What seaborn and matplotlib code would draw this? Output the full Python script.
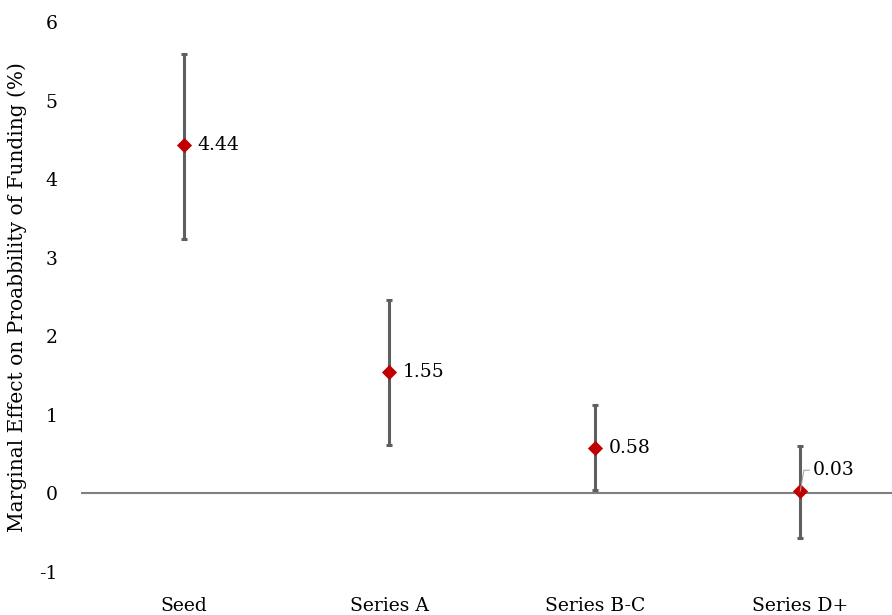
import pandas as pd
import seaborn as sns
import matplotlib.pyplot as plt
import numpy as np

stages = ['Seed', 'Series A', 'Series B-C', 'Series D+']
effects = [4.44, 1.55, 0.58, 0.03]
lower = [3.24, 0.62, 0.04, -0.57]
upper = [5.59, 2.46, 1.12, 0.61]

df = pd.DataFrame({'Stage': stages, 'Effect': effects, 'Lower': lower, 'Upper': upper})

sns.set_theme(style="white")
plt.rcParams['font.family'] = ['DejaVu Serif']
plt.rcParams['axes.unicode_minus'] = False
plt.rcParams['text.color'] = 'black'

fig = plt.figure(figsize=(8.92, 6.15), dpi=100)
ax = fig.add_axes([81 / 892, 43 / 615, 822 / 892, 550 / 615])

x = np.arange(len(stages))
yerr = [df['Effect'] - df['Lower'], df['Upper'] - df['Effect']]
ax.errorbar(x, df['Effect'], yerr=yerr, fmt='none', ecolor='#5f5f5f',
            elinewidth=2.2, capsize=2.5, capthick=2.2, zorder=2)
ax.axhline(0, color='#7f7f7f', lw=1.5, zorder=1)

sns.scatterplot(data=df, x='Stage', y='Effect', marker='D', color='#c00000',
                s=60, edgecolor='#c00000', linewidth=0, zorder=3, ax=ax)

for i, row in df.iterrows():
    if i < 3:
        ax.annotate(f"{row['Effect']:.2f}", (i, row['Effect']), xytext=(10, 0),
                    textcoords='offset points', ha='left', va='center', fontsize=13.5)
    else:
        ax.annotate(f"{row['Effect']:.2f}", (i, row['Effect']), xytext=(9, 15),
                    textcoords='offset points', ha='left', va='center', fontsize=13.5,
                    arrowprops=dict(arrowstyle='-', color='#a6a6a6', lw=0.8,
                                    shrinkA=0, shrinkB=0,
                                    connectionstyle='angle,angleA=0,angleB=80,rad=0'))

ax.set_xlim(-0.5, 3.5)
ax.set_ylim(-1, 6)
ax.set_yticks(range(-1, 7))
ax.set_xticks(x)
ax.set_xticklabels(stages)
ax.tick_params(axis='y', labelsize=13.5, length=0, pad=17, labelcolor='black')
ax.tick_params(axis='x', labelsize=13.5, length=0, pad=18, labelcolor='black')
ax.set_xlabel('')
ax.set_ylabel('Marginal Effect on Proabbility of Funding (%)', fontsize=14.5,
              labelpad=9, color='black')
sns.despine(ax=ax, left=True, bottom=True)

plt.savefig('out.png', dpi=100)
